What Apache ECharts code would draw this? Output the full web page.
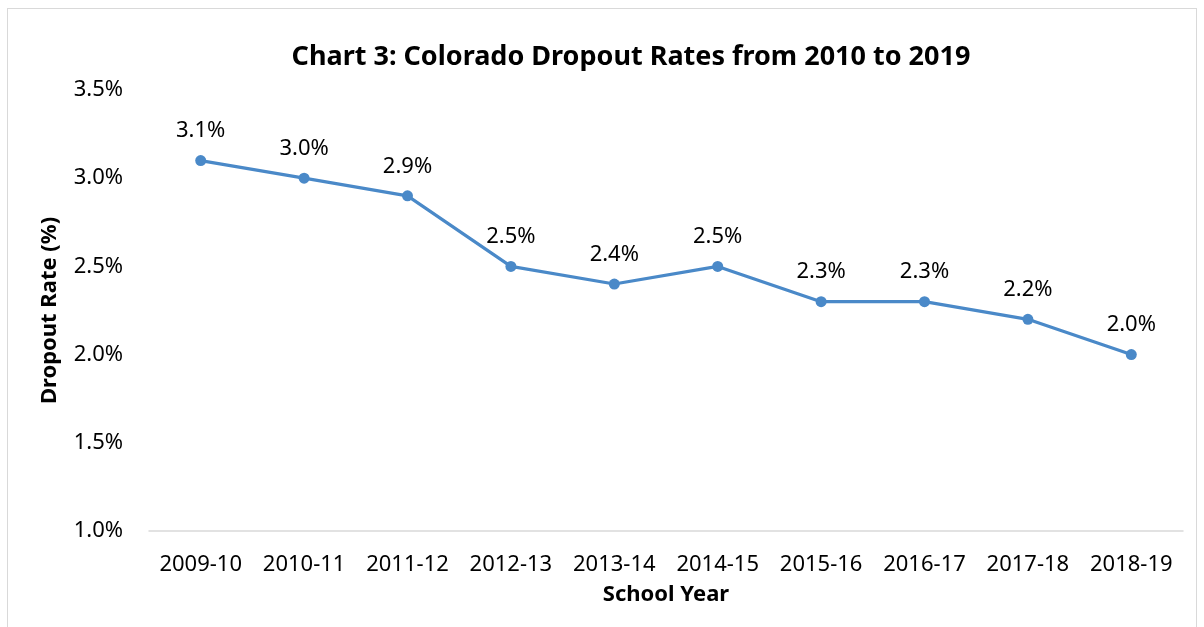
<!DOCTYPE html>
<html><head><meta charset="utf-8">
<script src="https://cdn.jsdelivr.net/npm/echarts@6/dist/echarts.min.js"></script>
<style>html,body{margin:0;padding:0;background:#fff}#c{width:1204px;height:627px}
#frame{position:absolute;left:7px;top:8px;width:1188px;height:640px;border:1.5px solid #d9d9d9;pointer-events:none}</style>
</head><body><div id="c"></div><div id="frame"></div>
<script>
const categories = ['2009-10','2010-11','2011-12','2012-13','2013-14','2014-15','2015-16','2016-17','2017-18','2018-19'];
const dropoutRates = [3.1, 3.0, 2.9, 2.5, 2.4, 2.5, 2.3, 2.3, 2.2, 2.0];
const yTicks = [1.0, 1.5, 2.0, 2.5, 3.0, 3.5];
const FONT = 'Noto Sans';
const FS = 22;
const chart = echarts.init(document.getElementById('c'));
chart.setOption({
  animation: false,
  title: {text: 'Chart 3: Colorado Dropout Rates from 2010 to 2019', left: 626, top: 39, textAlign: 'center',
    textStyle: {fontFamily: FONT, fontSize: 27, fontWeight: 'bold', color: '#000'}},
  grid: {left: 149, right: 21, top: 90, bottom: 96},
  xAxis: {type: 'category', data: categories, boundaryGap: true,
    name: 'School Year', nameLocation: 'middle', nameGap: 53,
    nameTextStyle: {fontFamily: FONT, fontSize: FS, fontWeight: 'bold', color: '#000'},
    axisLine: {lineStyle: {color: '#d9d9d9', width: 1.5}}, axisTick: {show: false},
    axisLabel: {interval: 0, hideOverlap: false, fontFamily: FONT, fontSize: FS, color: '#000', margin: 23}},
  yAxis: {type: 'value', min: yTicks[0], max: yTicks[yTicks.length-1], interval: 0.5,
    name: 'Dropout Rate (%)', nameLocation: 'middle', nameGap: 88, nameRotate: 90,
    nameTextStyle: {fontFamily: FONT, fontSize: FS, fontWeight: 'bold', color: '#000'},
    axisLine: {show: false}, axisTick: {show: false}, splitLine: {show: false},
    axisLabel: {fontFamily: FONT, fontSize: FS, color: '#000', margin: 26, formatter: v => v.toFixed(1) + '%'}},
  series: [{type: 'line', data: dropoutRates, symbol: 'circle', symbolSize: 11,
    lineStyle: {color: '#4a89c8', width: 3.2}, itemStyle: {color: '#4a89c8'},
    label: {show: true, position: 'top', distance: 13, fontFamily: FONT, fontSize: FS, color: '#000',
      formatter: p => p.value.toFixed(1) + '%'}}]
});
</script></body></html>
